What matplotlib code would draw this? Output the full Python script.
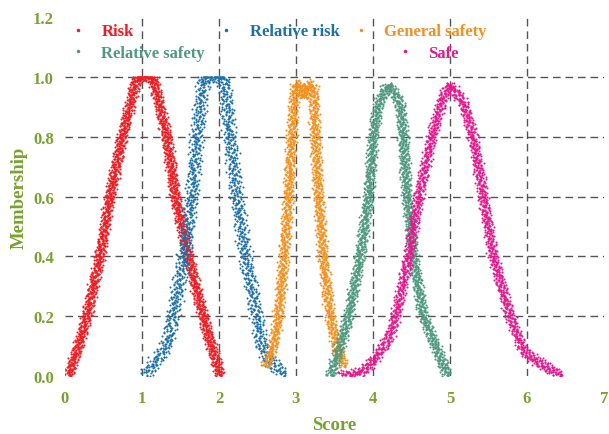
import numpy as np
import matplotlib
matplotlib.use('Agg')
import matplotlib.pyplot as plt
from matplotlib.lines import Line2D

# grade names and colours
names = ['Risk', 'Relative risk', 'General safety', 'Relative safety', 'Safe']
colors = ['#EE1D23', '#1B6FAA', '#F4901E', '#4F9A7F', '#E5178C']

# outline of each cloud (score, membership)
risk_x = [0.04, 0.17, 0.28, 0.45, 0.58, 0.74, 0.93, 1.14, 1.32, 1.43, 1.60, 1.79, 1.90, 2.02]
risk_y = [0.0, 0.1, 0.2, 0.4, 0.6, 0.8, 1.0, 1.0, 0.8, 0.6, 0.4, 0.2, 0.1, 0.0]

rrisk_x = [1.04, 1.17, 1.32, 1.40, 1.54, 1.645, 1.71, 1.80, 2.06, 2.14, 2.23, 2.34, 2.49, 2.55, 2.66, 2.86]
rrisk_y = [0.0, 0.05, 0.1, 0.2, 0.4, 0.6, 0.8, 1.0, 1.0, 0.8, 0.6, 0.4, 0.2, 0.1, 0.05, 0.0]

general_x = [2.60, 2.70, 2.77, 2.84, 2.90, 2.94, 2.99, 3.06, 3.10, 3.14, 3.22, 3.25, 3.29, 3.35, 3.44, 3.52, 3.63]
general_y = [0.03, 0.1, 0.2, 0.4, 0.6, 0.8, 0.975, 0.975, 0.93, 0.975, 0.975, 0.8, 0.6, 0.4, 0.2, 0.1, 0.03]

rsafety_x = [3.44, 3.57, 3.68, 3.83, 3.94, 4.00, 4.07, 4.20, 4.35, 4.39, 4.44, 4.52, 4.65, 4.81, 4.89, 4.97]
rsafety_y = [0.0, 0.1, 0.2, 0.4, 0.6, 0.8, 0.915, 0.975, 0.915, 0.8, 0.6, 0.4, 0.2, 0.1, 0.05, 0.0]

safe_x = [3.55, 3.83, 4.00, 4.22, 4.29, 4.46, 4.59, 4.76, 4.90, 5.00, 5.17, 5.30, 5.43, 5.56, 5.78, 5.94, 6.08, 6.45]
safe_y = [0.0, 0.01, 0.05, 0.135, 0.2, 0.4, 0.6, 0.8, 0.93, 0.975, 0.915, 0.8, 0.6, 0.4, 0.2, 0.09, 0.057, 0.0]

outlines = [(risk_x, risk_y), (rrisk_x, rrisk_y), (general_x, general_y),
            (rsafety_x, rsafety_y), (safe_x, safe_y)]
n_drops = [2800, 1700, 2100, 2400, 2300]
band_px = [6.5, 8.5, 6.5, 6.5, 6.5]   # half thickness of each band, pixels

x_ticks = [0, 1, 2, 3, 4, 5, 6, 7]
y_ticks = [0.0, 0.2, 0.4, 0.6, 0.8, 1.0, 1.2]

olive = '#78A22F'
serif = ['Liberation Serif', 'DejaVu Serif']


def halton(k, base):
    k = k.copy()
    f = 1.0
    r = np.zeros(len(k))
    while np.any(k > 0):
        f /= base
        r += f * (k % base)
        k //= base
    return r


def cloud_drops(xs, ys, n, half_w, sx, sy):
    # spread drops along the outline (in pixel space) with a fixed
    # quasi-random (Halton) jitter across it
    px = np.asarray(xs, float) * sx
    py = np.asarray(ys, float) * sy
    dx, dy = np.diff(px), np.diff(py)
    seg = np.hypot(dx, dy)
    cum = np.concatenate([[0.0], np.cumsum(seg)])
    k = np.arange(1, n + 1)
    s = halton(k, 2) * cum[-1]
    off = (halton(k, 3) + halton(k, 5) - 1.0) * half_w
    i = np.clip(np.searchsorted(cum, s, side='right') - 1, 0, len(seg) - 1)
    t = (s - cum[i]) / seg[i]
    bx = px[i] + t * dx[i]
    by = py[i] + t * dy[i]
    nx, ny = -dy[i] / seg[i], dx[i] / seg[i]
    x = (bx + nx * off) / sx
    y = (by + ny * off) / sy
    keep = y >= 0
    return x[keep], np.minimum(y[keep], 1.0)


fig = plt.figure(figsize=(6.09, 4.35), dpi=100)
ax = fig.add_axes([0.1067, 0.1333, 0.885, 0.8253])
ax.set_xlim(x_ticks[0], x_ticks[-1])
ax.set_ylim(y_ticks[0], y_ticks[-1])

sx = ax.bbox.width / (x_ticks[-1] - x_ticks[0])
sy = ax.bbox.height / (y_ticks[-1] - y_ticks[0])

for (xs, ys), n, hw, c in zip(outlines, n_drops, band_px, colors):
    x, y = cloud_drops(xs, ys, n, hw, sx, sy)
    ax.scatter(x, y, s=2.2, color=c, linewidths=0, zorder=3)

ax.set_xticks(x_ticks)
ax.set_yticks(y_ticks)
ax.set_yticklabels(['%.1f' % v for v in y_ticks])
for sp in ax.spines.values():
    sp.set_visible(False)
ax.tick_params(length=0, labelcolor=olive, labelsize=12)
ax.tick_params(axis='x', pad=10)
ax.tick_params(axis='y', pad=8)
for lab in ax.get_xticklabels() + ax.get_yticklabels():
    lab.set_fontfamily(serif)
    lab.set_fontweight('bold')

ax.set_axisbelow(True)
ax.grid(True, color='#555555', linestyle=(0, (5.5, 3.5)), linewidth=1.0)
xt = ax.xaxis.get_major_ticks()
yt = ax.yaxis.get_major_ticks()
for tk in [xt[0], xt[-1], yt[0], yt[-1]]:
    tk.gridline.set_visible(False)

ax.set_xlabel('Score', fontsize=13.5, fontweight='bold', color=olive,
              family=serif, labelpad=7)
ax.set_ylabel('Membership', fontsize=13.5, fontweight='bold', color=olive,
              family=serif, labelpad=4)

# legend: first row of three, second row Relative safety ... Safe
handles = [Line2D([], [], marker='.', linestyle='none', color=c, markersize=3)
           for c in colors]
blank = Line2D([], [], linestyle='none', marker=None)
leg_font = {'family': serif, 'weight': 'bold', 'size': 12}
leg1 = ax.legend([handles[0], handles[3], handles[1], blank, handles[2], blank],
                 [names[0], names[3], names[1], '', names[2], ''],
                 ncol=3, loc='upper left', bbox_to_anchor=(0.0087, 0.982),
                 frameon=False, prop=leg_font, borderpad=0, borderaxespad=0,
                 handlelength=1.0, handletextpad=0.9, columnspacing=0.78,
                 labelspacing=0.33)
for txt, c in zip(leg1.get_texts(), [colors[0], colors[3], colors[1], 'k', colors[2], 'k']):
    txt.set_color(c)
ax.add_artist(leg1)
leg2 = ax.legend([handles[4]], [names[4]], loc='upper left',
                 bbox_to_anchor=(0.615, 0.922), frameon=False, prop=leg_font,
                 borderpad=0, borderaxespad=0, handlelength=1.0,
                 handletextpad=0.9)
leg2.get_texts()[0].set_color(colors[4])

fig.savefig('out.png', dpi=100)
